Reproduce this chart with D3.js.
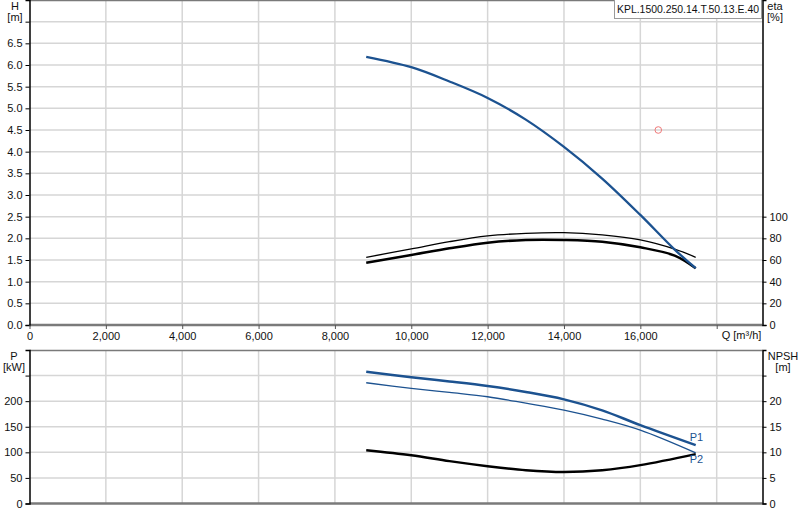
<!DOCTYPE html>
<html>
<head>
<meta charset="utf-8">
<script src="https://cdn.jsdelivr.net/npm/d3@7"></script>
<style>
  body { margin: 0; background: #fff; }
  svg { display: block; font-family: Arial, "Liberation Sans", sans-serif; font-size: 11px; }
  .grid line { stroke: #d6d6d6; stroke-width: 1.5; }
  .tick text { fill: #111; }
</style>
</head>
<body>
<div id="chart"></div>
<script>
// Q values (m³/h) where the curves were read
const qTop = [8820, 10000, 11000, 12000, 13000, 14000, 15000, 16000, 16900, 17450];
const headH = [6.19, 5.95, 5.62, 5.24, 4.74, 4.11, 3.38, 2.54, 1.74, 1.31];
const etaPump = [62.5, 70.2, 76.9, 82.2, 84.6, 85.2, 83.1, 78.5, 70.0, 62.5];
const etaTotal = [57.5, 64.6, 70.8, 76.0, 78.5, 78.5, 76.9, 71.7, 64.0, 52.3];

const qBottom = [8820, 10000, 11000, 12000, 13000, 14000, 15000, 16000, 17450];
const powerP1 = [257.5, 246.6, 238.5, 229.6, 218, 203.5, 182, 153.2, 114.1];
const powerP2 = [236, 225, 217, 208.6, 196, 182.6, 165, 143.4, 99];
const npsh = [10.43, 9.45, 8.28, 7.3, 6.52, 6.18, 6.52, 7.5, 9.65];

const dutyPoint = { q: 16470, h: 4.5 };

const qTicks = [0, 2000, 4000, 6000, 8000, 10000, 12000, 14000, 16000, 18000];
const hTicks = [0, 0.5, 1, 1.5, 2, 2.5, 3, 3.5, 4, 4.5, 5, 5.5, 6, 6.5, 7];
const etaTicks = [0, 20, 40, 60, 80, 100];
const pTicks = [0, 50, 100, 150, 200, 250];
const npshTicks = [0, 5, 10, 15, 20, 25];

const W = 800, H = 520;
const left = 29.5, right = 762.5;
const topY0 = 0, topY1 = 325;
const botY0 = 350, botY1 = 503.5;
const blue = '#1c5290';

const svg = d3.select('#chart').append('svg')
    .attr('width', W).attr('height', H);

const x = d3.scaleLinear().domain([0, 19200]).range([left, right]);
const yH = d3.scaleLinear().domain([0, 7.5]).range([topY1, topY0]);
const yEta = d3.scaleLinear().domain([0, 300]).range([topY1, topY0]);
const yP = d3.scaleLinear().domain([0, 300]).range([botY1, botY0]);
const yN = d3.scaleLinear().domain([0, 30]).range([botY1, botY0]);

function drawPanel(yScale, y0, y1, leftTicks, leftFmt) {
    // vertical grid
    svg.append('g').attr('class', 'grid')
        .selectAll('line').data(qTicks.filter(d => d > 0)).join('line')
        .attr('x1', d => x(d)).attr('x2', d => x(d))
        .attr('y1', y0).attr('y2', y1);
    // horizontal grid
    svg.append('g').attr('class', 'grid')
        .selectAll('line').data(leftTicks.filter(d => d > 0)).join('line')
        .attr('x1', left).attr('x2', right)
        .attr('y1', d => yScale(d)).attr('y2', d => yScale(d));
    // frame
    svg.append('line').attr('x1', left).attr('x2', right).attr('y1', y0 + 0.5).attr('y2', y0 + 0.5)
        .attr('stroke', '#7a7a7a').attr('stroke-width', 1.5);
    svg.append('line').attr('x1', left).attr('x2', right).attr('y1', y1).attr('y2', y1)
        .attr('stroke', '#7a7a7a').attr('stroke-width', 2.5);
    const la = svg.append('g').attr('transform', `translate(${left},0)`)
        .call(d3.axisLeft(yScale).tickValues(leftTicks).tickSize(4).tickPadding(3).tickFormat(leftFmt));
    la.select('.domain').attr('stroke', '#000').attr('stroke-width', 1.5);
    la.selectAll('.tick text').attr('font-size', 11).attr('font-family', 'Arial, "Liberation Sans", sans-serif');
}

function drawRight(scale, ticks, fmt) {
    const ra = svg.append('g').attr('transform', `translate(${right},0)`)
        .call(d3.axisRight(scale).tickValues(ticks).tickSize(4).tickPadding(3).tickFormat(fmt));
    ra.select('.domain').attr('stroke', '#000').attr('stroke-width', 1.5);
    ra.selectAll('.tick text').attr('font-size', 11).attr('font-family', 'Arial, "Liberation Sans", sans-serif');
}

// top panel
drawPanel(yH, topY0, topY1, hTicks, d => d >= 7 ? '' : d3.format('.1f')(d));
drawRight(yEta, etaTicks, d => d);
// bottom panel
drawPanel(yP, botY0, botY1, pTicks, d => d === 250 ? '' : d);
drawRight(yN, npshTicks, d => d === 25 ? '' : d);

// x axis ticks and labels on top panel
const xa = svg.append('g').attr('transform', `translate(0,${topY1})`)
    .call(d3.axisBottom(x).tickValues(qTicks).tickSize(4).tickPadding(3)
        .tickFormat(d => d === 18000 ? '' : d3.format(',')(d)));
xa.select('.domain').remove();
xa.selectAll('.tick line').attr('stroke', '#555');
xa.selectAll('.tick text').attr('font-size', 11).attr('font-family', 'Arial, "Liberation Sans", sans-serif');
svg.append('text').attr('x', x(18000) + 5).attr('y', 339).attr('fill', '#111').text('Q [m³/h]');

const bx = svg.append('g').attr('transform', `translate(0,${botY1})`)
    .call(d3.axisBottom(x).tickValues(qTicks).tickSize(0).tickFormat(''));
bx.select('.domain').remove();

// axis titles
const titles = [
    { t: 'H', x: 15, y: 10 }, { t: '[m]', x: 15, y: 21 },
    { t: 'eta', x: 775, y: 10 }, { t: '[%]', x: 775, y: 21 },
    { t: 'P', x: 14, y: 360 }, { t: '[kW]', x: 14, y: 371 },
    { t: 'NPSH', x: 783, y: 360 }, { t: '[m]', x: 783, y: 371 }
];
svg.append('g').selectAll('text').data(titles).join('text')
    .attr('x', d => d.x).attr('y', d => d.y).attr('text-anchor', 'middle')
    .attr('fill', '#111').text(d => d.t);

// curves
const smooth = d3.curveCatmullRom.alpha(0.5);
const lineTop = ys => d3.line().x((d, i) => x(qTop[i])).y(d => ys(d)).curve(smooth);
const lineBot = ys => d3.line().x((d, i) => x(qBottom[i])).y(d => ys(d)).curve(smooth);

svg.append('path').datum(etaPump).attr('d', lineTop(yEta))
    .attr('fill', 'none').attr('stroke', '#000').attr('stroke-width', 1.3);
svg.append('path').datum(etaTotal).attr('d', lineTop(yEta))
    .attr('fill', 'none').attr('stroke', '#000').attr('stroke-width', 2.5);
svg.append('path').datum(headH).attr('d', lineTop(yH))
    .attr('fill', 'none').attr('stroke', blue).attr('stroke-width', 2.3);

svg.append('circle').attr('cx', x(dutyPoint.q)).attr('cy', yH(dutyPoint.h)).attr('r', 3.3)
    .attr('fill', 'none').attr('stroke', '#f07a7a').attr('stroke-width', 1);

svg.append('path').datum(powerP1).attr('d', lineBot(yP))
    .attr('fill', 'none').attr('stroke', blue).attr('stroke-width', 2.5);
svg.append('path').datum(powerP2).attr('d', lineBot(yP))
    .attr('fill', 'none').attr('stroke', blue).attr('stroke-width', 1.3);
svg.append('path').datum(npsh).attr('d', lineBot(yN))
    .attr('fill', 'none').attr('stroke', '#000').attr('stroke-width', 2.5);

svg.append('text').attr('x', x(qBottom[qBottom.length - 1]) - 6).attr('y', yP(powerP1[powerP1.length - 1]) - 4)
    .attr('fill', blue).text('P1');
svg.append('text').attr('x', x(qBottom[qBottom.length - 1]) - 6).attr('y', yP(powerP2[powerP2.length - 1]) + 10)
    .attr('fill', blue).text('P2');

// legend box
const leg = svg.append('g');
leg.append('rect').attr('x', 614.5).attr('y', -1).attr('width', 147).attr('height', 19.5)
    .attr('fill', '#fff').attr('stroke', '#9a9a9a');
leg.append('text').attr('x', 617).attr('y', 12.5).attr('fill', '#111')
    .attr('textLength', 142).attr('lengthAdjust', 'spacingAndGlyphs')
    .text('KPL.1500.250.14.T.50.13.E.40');
</script>
</body>
</html>
